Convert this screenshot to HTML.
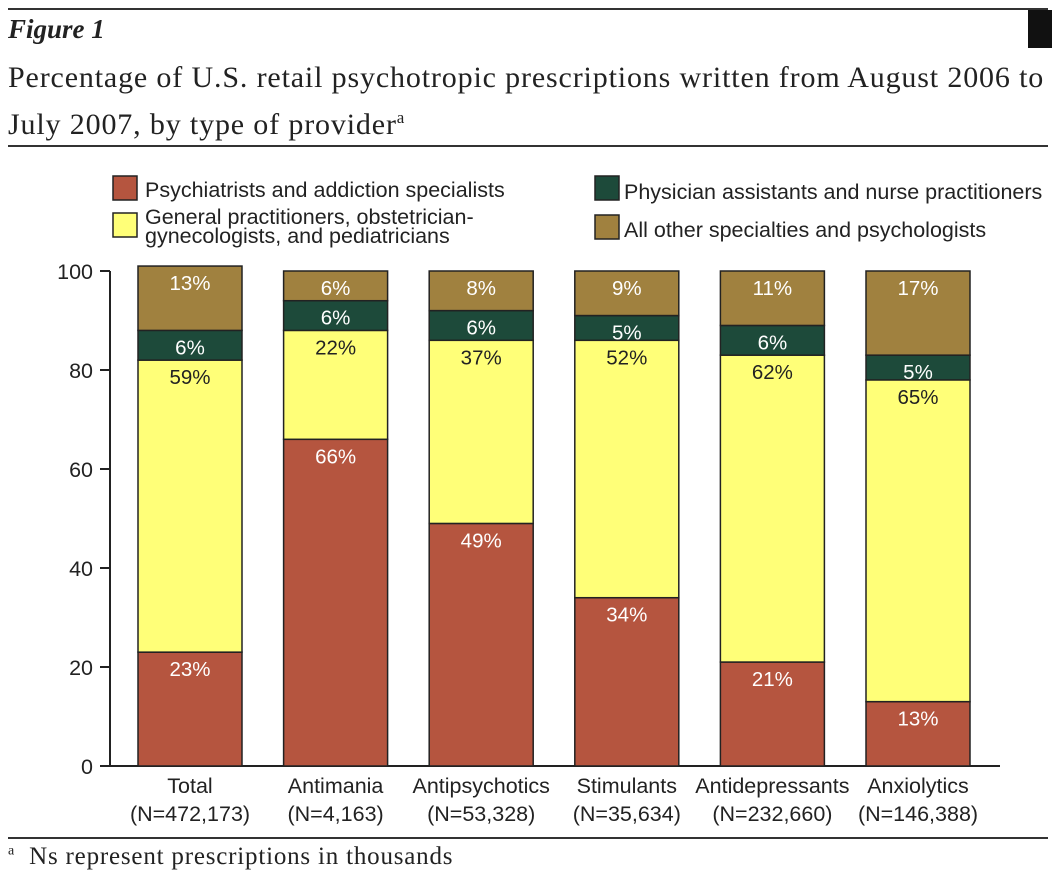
<!DOCTYPE html>
<html><head><meta charset="utf-8"><style>
body{margin:0;background:#fff;width:1064px;height:868px;overflow:hidden;position:relative;font-family:"Liberation Sans",sans-serif}
.serif{font-family:"Liberation Serif",serif;position:absolute;color:#222}
</style></head><body>
<div style="position:absolute;left:8px;top:8px;width:1040px;height:2px;background:#333"></div>
<div style="position:absolute;left:1028px;top:10px;width:24px;height:38px;background:#111"></div>
<div class="serif" style="left:8px;top:14px;font-size:27px;font-weight:bold;font-style:italic">Figure 1</div>
<div class="serif" style="left:8px;top:58px;font-size:30px;letter-spacing:0.85px;line-height:40px;width:1080px;white-space:nowrap">Percentage of U.S. retail psychotropic prescriptions written from August 2006 to<br>July 2007, by type of provider<sup style="font-size:17px">a</sup></div>
<div style="position:absolute;left:8px;top:145px;width:1040px;height:2px;background:#333"></div>
<div style="position:absolute;left:8px;top:837px;width:1040px;height:2px;background:#333"></div>
<div class="serif" style="left:8px;top:843px;font-size:25px;letter-spacing:0.8px"><sup style="font-size:14px">a</sup>&nbsp; Ns represent prescriptions in thousands</div>
<svg id="chart" width="1064" height="868" style="position:absolute;left:0;top:0"></svg>
<script>
const categories=["Total","Antimania","Antipsychotics","Stimulants","Antidepressants","Anxiolytics"];
const nLabels=["(N=472,173)","(N=4,163)","(N=53,328)","(N=35,634)","(N=232,660)","(N=146,388)"];
const psychiatrists=[23,66,49,34,21,13];
const generalPractitioners=[59,22,37,52,62,65];
const physicianAssistants=[6,6,6,5,6,5];
const otherSpecialties=[13,6,8,9,11,17];
const yTicks=[0,20,40,60,80,100];
const colors=["#b5553f","#ffff78","#1d4a3a","#a0813f"];
const textColors=["#fff","#222","#fff","#fff"];
const series=[psychiatrists,generalPractitioners,physicianAssistants,otherSpecialties];
const svg=document.getElementById('chart');const NS="http://www.w3.org/2000/svg";
function y(v){return 766-v*4.95;}
function x(i){return 138+i*145.6;}
const bw=104;
function mk(t,a,p){const e=document.createElementNS(NS,t);for(const k in a)e.setAttribute(k,a[k]);(p||svg).appendChild(e);return e;}
let ax=mk('line',{x1:110,y1:271,x2:110,y2:766,stroke:'#222','stroke-width':2});

let bx=mk('line',{x1:110,y1:766,x2:1000,y2:766,stroke:'#222','stroke-width':2});

yTicks.forEach(v=>{
 let l=mk('line',{x1:100,x2:110,y1:y(v),y2:y(v),stroke:'#222','stroke-width':2});
 
 let t=mk('text',{x:93,y:y(v)+8,'text-anchor':'end','font-size':21.5,fill:'#222'});t.textContent=v;
 
});
categories.forEach((c,i)=>{
 let cum=0;
 series.forEach((s,k)=>{
  const v=s[i];const y0=y(cum),y1=y(cum+v);
  let r=mk('rect',{x:x(i),y:y1,width:bw,height:y0-y1,fill:colors[k],stroke:'#222','stroke-width':1.5});
  
  let t=mk('text',{x:x(i)+bw/2,y:y1+24,'text-anchor':'middle','font-size':20.5,fill:textColors[k]});t.textContent=v+'%';
  
  cum+=v;
 });
 let t=mk('text',{x:x(i)+bw/2,y:793,'text-anchor':'middle','font-size':21.5,fill:'#222'});t.textContent=c;
 
 let t2=mk('text',{x:x(i)+bw/2,y:821,'text-anchor':'middle','font-size':21.5,fill:'#222'});t2.textContent=nLabels[i];
 
});
const legPos=[[113,176],[113,213],[595,176],[595,215]];
legPos.forEach((p,k)=>{
 let r=mk('rect',{x:p[0],y:p[1],width:24,height:24,fill:colors[k],stroke:'#222','stroke-width':1.5});
 
});
function legText(xx,yy,lines){let t=mk('text',{x:xx,y:yy,'font-size':21.5,fill:'#222'});
 
 lines.forEach((s,j)=>{let ts=mk('tspan',{x:xx,dy:j?19:0},t);ts.textContent=s;});}
legText(145,197,["Psychiatrists and addiction specialists"]);
legText(145,224,["General practitioners, obstetrician-","gynecologists, and pediatricians"]);
legText(624,199,["Physician assistants and nurse practitioners"]);
legText(624,237,["All other specialties and psychologists"]);
</script>
</body></html>
